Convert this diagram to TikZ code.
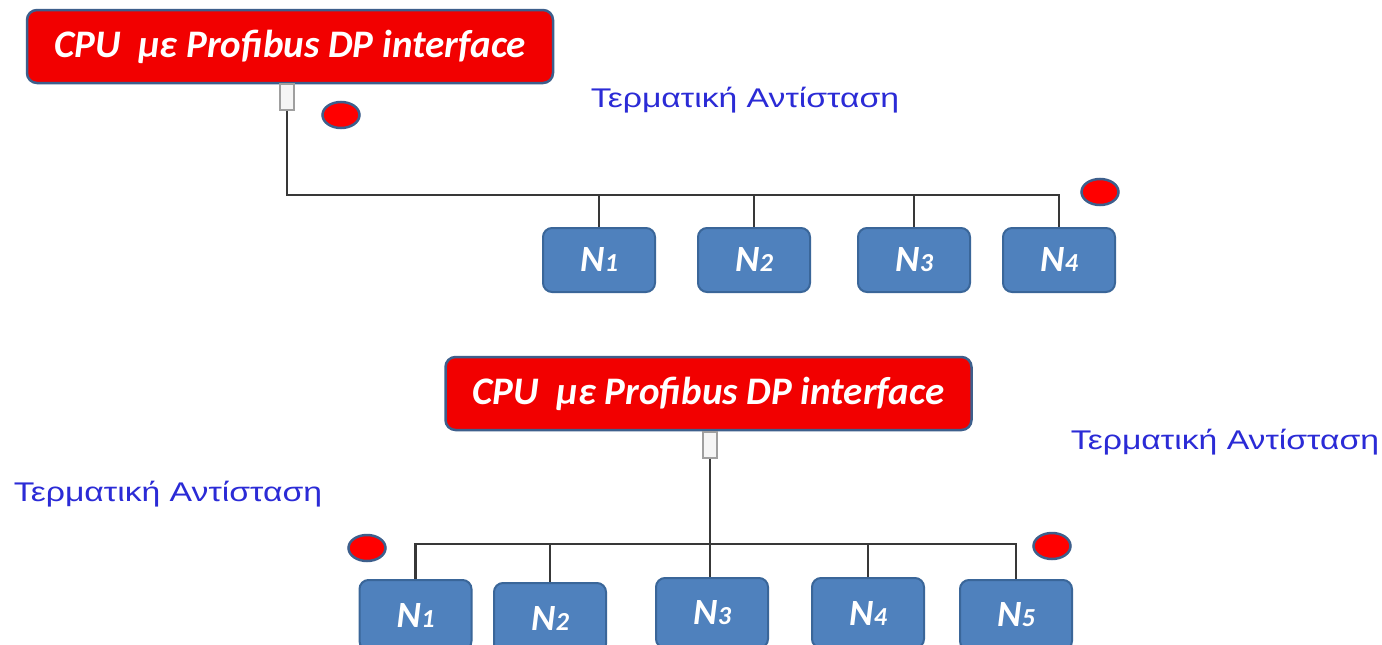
\documentclass[tikz,border=0pt]{standalone}
\usepackage{fontspec}
\setmainfont{Carlito}
\newfontfamily\termfont[FakeStretch=1.25]{Liberation Sans}
\usetikzlibrary{shapes.geometric}
\definecolor{cpured}{HTML}{F20000}
\definecolor{edgeblue}{HTML}{3D5F8C}
\definecolor{nodefill}{HTML}{4F81BD}
\definecolor{nodeedge}{HTML}{3A6699}
\definecolor{termblue}{HTML}{2B2BD6}
\definecolor{wiregray}{HTML}{383838}
\tikzset{
  cpubox/.style={draw=edgeblue, line width=2.5pt, fill=cpured, rounded corners=10pt,
    minimum width=526pt, minimum height=73pt, inner sep=0pt, text=white,
    font=\fontsize{39}{39}\selectfont\bfseries\itshape},
  nbox/.style={draw=nodeedge, line width=2pt, fill=nodefill, rounded corners=9pt,
    minimum width=112pt, minimum height=64pt, inner sep=0pt, text=white,
    font=\fontsize{37}{37}\selectfont\bfseries\itshape},
  plug/.style={draw=gray!75, line width=1.2pt, fill=gray!8, minimum width=14pt,
    minimum height=26pt, inner sep=0pt},
  termdot/.style={ellipse, draw=edgeblue, line width=2.5pt, fill=red,
    minimum width=37pt, minimum height=26pt, inner sep=0pt},
  termlabel/.style={text=termblue, font=\termfont\fontsize{27}{27}\selectfont},
  wire/.style={draw=wiregray, line width=2.6pt},
}
\newcommand{\nlabel}[1]{N\kern0.5pt{\fontsize{26}{26}\selectfont #1}}
\begin{document}
\begin{tikzpicture}[x=1pt, y=-1pt]
\useasboundingbox (0,0) rectangle (1382,645);
\clip (0,0) rectangle (1382,645);
\fill[white] (0,0) rectangle (1382,645);

% ---------- linear bus: master at the left end ----------
\node[cpubox] (cpuA) at (290,46.5) {CPU\ \ με Profibus DP interface};
\node[plug] (plugA) at (287,97) {};
\node[termdot] (termA1) at (341,115) {};
\node[termdot] (termA2) at (1100,192) {};
\node[termlabel] (labA) at (745,100) {Τερματική Αντίσταση};

\node[nbox] (a1) at (599,260) {\nlabel{1}};
\node[nbox] (a2) at (754,260) {\nlabel{2}};
\node[nbox] (a3) at (914,260) {\nlabel{3}};
\node[nbox] (a4) at (1059,260) {\nlabel{4}};

\coordinate (busA) at (0,195);
\draw[wire] (plugA.south) |- (a4.north |- busA) -- (a4.north);
\foreach \n in {a1,a2,a3}
  \draw[wire] (\n.north) -- (\n.north |- busA);

% ---------- bus with the master in the middle ----------
\node[cpubox] (cpuB) at (708.5,393.5) {CPU\ \ με Profibus DP interface};
\node[plug] (plugB) at (710,445) {};
\node[termdot] (termB1) at (367,548) {};
\node[termdot] (termB2) at (1052,546) {};
\node[termlabel] (labB1) at (168,494) {Τερματική Αντίσταση};
\node[termlabel] (labB2) at (1225,442) {Τερματική Αντίσταση};

\node[nbox, minimum height=70pt] (b1) at (415.5,615) {\nlabel{1}};
\node[nbox, minimum height=70pt] (b2) at (550,618) {\nlabel{2}};
\node[nbox, minimum height=70pt] (b3) at (712,613) {\nlabel{3}};
\node[nbox, minimum height=70pt] (b4) at (868,613) {\nlabel{4}};
\node[nbox, minimum height=70pt] (b5) at (1016,615) {\nlabel{5}};

\coordinate (busB) at (0,544);
\draw[wire] (b1.north) |- (b5.north |- busB) -- (b5.north);
\draw[wire] (plugB.south) -- (plugB.south |- b3.north);
\foreach \n in {b2,b4}
  \draw[wire] (\n.north) -- (\n.north |- busB);
\end{tikzpicture}
\end{document}
